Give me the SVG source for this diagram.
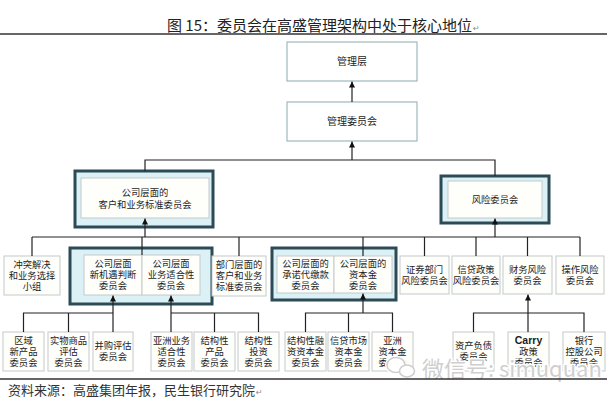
<svg xmlns="http://www.w3.org/2000/svg" width="607" height="402" viewBox="0 0 607 402">
<defs>
<style>
.bg{fill:#ffffff}
.box{fill:#fefefb;stroke:#c3cacb;stroke-width:1}
.top{fill:#ffffff;stroke:#9fb8b8;stroke-width:1.2}
.grp{fill:#dbf1f5;stroke:#2d4b56;stroke-width:3}
.t{font-family:"Noto Sans CJK SC","Noto Sans",sans-serif;font-size:9.3px;fill:#1c1c1c;text-anchor:middle}
.tl{font-size:10px}
.en{font-family:"Liberation Sans",Arial,sans-serif;font-weight:bold;font-size:10.5px}
.title{font-family:"Noto Sans CJK SC","Noto Sans",sans-serif;font-size:15px;fill:#222}
.foot{font-family:"Noto Sans CJK SC","Noto Sans",sans-serif;font-size:13px;fill:#333}
.ret{font-family:"DejaVu Sans",sans-serif;font-size:8px;fill:#888}
.rule{stroke:#333;stroke-width:1.3}
.c{stroke:#222;stroke-width:1.2;fill:none}
.wm{font-family:"Noto Sans CJK SC","Noto Sans",sans-serif;font-size:22px;fill:#cfcfcf;stroke:#ffffff;stroke-width:3;paint-order:stroke;stroke-linejoin:round}
</style>
<marker id="ar" markerWidth="6" markerHeight="6" refX="6" refY="3" orient="auto" markerUnits="userSpaceOnUse">
<path d="M0,0 L6,3 L0,6 z" fill="#111"/>
</marker>
</defs>
<rect class="bg" x="0" y="0" width="607" height="402"/>

<g id="title">
<text class="title" x="167" y="30.5">图 15：委员会在高盛管理架构中处于核心地位<tspan class="ret" dx="1">↵</tspan></text>
<line class="rule" x1="0" y1="34" x2="607" y2="34"/>
</g>

<g id="n-guanliceng"><rect class="top" x="287" y="42" width="130" height="39"/><text class="t tl" x="352" y="65">管理层</text></g>
<g id="n-guanliweiyuanhui"><rect class="top" x="287" y="102" width="130" height="39"/><text class="t tl" x="352" y="125">管理委员会</text></g>

<g id="n-kehu"><rect class="grp" x="75" y="171" width="138" height="56"/><rect class="box" x="81" y="178" width="128" height="40"/>
<text class="t" x="145"><tspan x="145" y="196">公司层面的</tspan><tspan x="145" y="207.5">客户和业务标准委员会</tspan></text></g>

<g id="n-fengxian"><rect class="grp" x="441" y="176" width="108" height="47"/><rect class="box" x="448" y="181" width="94" height="37"/>
<text class="t" x="495" y="203">风险委员会</text></g>

<g id="n-chongtu"><rect class="box" x="4" y="256" width="56" height="39"/>
<text class="t"><tspan x="32" y="268">冲突解决</tspan><tspan x="32" y="279">和业务选择</tspan><tspan x="32" y="290">小组</tspan></text></g>

<g id="g-xinjiyu"><rect class="grp" x="70" y="248" width="142" height="56"/>
<g id="n-xinjiyu"><rect class="box" x="84" y="255" width="58" height="40"/>
<text class="t"><tspan x="113" y="267.3">公司层面</tspan><tspan x="113" y="278.3">新机遇判断</tspan><tspan x="113" y="289.3">委员会</tspan></text></g>
<g id="n-shihexing"><rect class="box" x="142" y="255" width="58" height="40"/>
<text class="t"><tspan x="171" y="267.3">公司层面</tspan><tspan x="171" y="278.3">业务适合性</tspan><tspan x="171" y="289.3">委员会</tspan></text></g>
</g>

<g id="n-bumen"><rect class="box" x="212" y="256" width="54" height="40"/>
<text class="t"><tspan x="239" y="268.3">部门层面的</tspan><tspan x="239" y="279.3">客户和业务</tspan><tspan x="239" y="290.3">标准委员会</tspan></text></g>

<g id="g-chengnuo"><rect class="grp" x="272" y="248" width="124" height="52"/>
<g id="n-chengnuo"><rect class="box" x="277" y="256" width="57" height="37"/>
<text class="t"><tspan x="305.5" y="266.8">公司层面的</tspan><tspan x="305.5" y="277.8">承诺代缴款</tspan><tspan x="305.5" y="288.8">委员会</tspan></text></g>
<g id="n-zibenjin"><rect class="box" x="334" y="256" width="58" height="37"/>
<text class="t"><tspan x="363" y="266.8">公司层面的</tspan><tspan x="363" y="277.8">资本金</tspan><tspan x="363" y="288.8">委员会</tspan></text></g>
</g>

<g id="n-zhengquan"><rect class="box" x="400" y="256" width="49" height="38"/>
<text class="t"><tspan x="424.5" y="272.8">证券部门</tspan><tspan x="424.5" y="283.8">风险委员会</tspan></text></g>
<g id="n-xindai"><rect class="box" x="452" y="256" width="48" height="38"/>
<text class="t"><tspan x="476" y="272.8">信贷政策</tspan><tspan x="476" y="283.8">风险委员会</tspan></text></g>
<g id="n-caiwu"><rect class="box" x="503" y="256" width="49" height="38"/>
<text class="t"><tspan x="527.5" y="272.8">财务风险</tspan><tspan x="527.5" y="283.8">委员会</tspan></text></g>
<g id="n-caozuo"><rect class="box" x="556" y="256" width="48" height="38"/>
<text class="t"><tspan x="580" y="272.8">操作风险</tspan><tspan x="580" y="283.8">委员会</tspan></text></g>

<g id="n-quyu"><rect class="box" x="3" y="332" width="41" height="39"/>
<text class="t"><tspan x="23.5" y="343.8">区域</tspan><tspan x="23.5" y="354.8">新产品</tspan><tspan x="23.5" y="365.8">委员会</tspan></text></g>
<g id="n-shiwu"><rect class="box" x="48" y="332" width="41" height="39"/>
<text class="t"><tspan x="68.5" y="343.8">实物商品</tspan><tspan x="68.5" y="354.8">评估</tspan><tspan x="68.5" y="365.8">委员会</tspan></text></g>
<g id="n-binggou"><rect class="box" x="93" y="332" width="40" height="39"/>
<text class="t"><tspan x="113" y="349.3">并购评估</tspan><tspan x="113" y="360.3">委员会</tspan></text></g>

<g id="n-yazhouyewu"><rect class="box" x="151" y="332" width="41" height="39"/>
<text class="t"><tspan x="171.5" y="343.8">亚洲业务</tspan><tspan x="171.5" y="354.8">适合性</tspan><tspan x="171.5" y="365.8">委员会</tspan></text></g>
<g id="n-jiegouchanpin"><rect class="box" x="194" y="332" width="41" height="39"/>
<text class="t"><tspan x="214.5" y="343.8">结构性</tspan><tspan x="214.5" y="354.8">产品</tspan><tspan x="214.5" y="365.8">委员会</tspan></text></g>
<g id="n-jiegoutouzi"><rect class="box" x="238" y="332" width="41" height="39"/>
<text class="t"><tspan x="258.5" y="343.8">结构性</tspan><tspan x="258.5" y="354.8">投资</tspan><tspan x="258.5" y="365.8">委员会</tspan></text></g>

<g id="n-jiegourongzi"><rect class="box" x="285" y="332" width="41" height="39"/>
<text class="t"><tspan x="305.5" y="343.8">结构性融</tspan><tspan x="305.5" y="354.8">资资本金</tspan><tspan x="305.5" y="365.8">委员会</tspan></text></g>
<g id="n-xindaishichang"><rect class="box" x="328" y="332" width="41" height="39"/>
<text class="t"><tspan x="348.5" y="343.8">信贷市场</tspan><tspan x="348.5" y="354.8">资本金</tspan><tspan x="348.5" y="365.8">委员会</tspan></text></g>
<g id="n-yazhouziben"><rect class="box" x="372" y="332" width="41" height="39"/>
<text class="t"><tspan x="392.5" y="343.8">亚洲</tspan><tspan x="392.5" y="354.8">资本金</tspan><tspan x="392.5" y="365.8">委员会</tspan></text></g>

<g id="n-zichanfuzhai"><rect class="box" x="453" y="332" width="41" height="39"/>
<text class="t"><tspan x="473.5" y="349.3">资产负债</tspan><tspan x="473.5" y="360.3">委员会</tspan></text></g>
<g id="n-carry"><rect class="box" x="508" y="332" width="41" height="39"/>
<text class="t"><tspan class="en" x="528.5" y="344">Carry</tspan><tspan x="528.5" y="354.8">政策</tspan><tspan x="528.5" y="365.8">委员会</tspan></text></g>
<g id="n-yinhang"><rect class="box" x="563" y="332" width="42" height="39"/>
<text class="t"><tspan x="584" y="343.8">银行</tspan><tspan x="584" y="354.8">控股公司</tspan><tspan x="584" y="365.8">委员会</tspan></text></g>

<g id="connectors">
<line class="c" x1="352" y1="102" x2="352" y2="81.5" marker-end="url(#ar)"/>
<line class="c" x1="352" y1="160" x2="352" y2="141.5" marker-end="url(#ar)"/>
<polyline class="c" points="145,171 145,160 495,160 495,176"/>
<line class="c" x1="32" y1="237" x2="580" y2="237"/>
<line class="c" x1="145" y1="237" x2="145" y2="218.5" marker-end="url(#ar)"/>
<line class="c" x1="495" y1="237" x2="495" y2="218.5" marker-end="url(#ar)"/>
<line class="c" x1="32" y1="237" x2="32" y2="256"/>
<line class="c" x1="142" y1="237" x2="142" y2="255"/>
<line class="c" x1="239" y1="237" x2="239" y2="256"/>
<line class="c" x1="363" y1="237" x2="363" y2="256"/>
<line class="c" x1="424.5" y1="237" x2="424.5" y2="256"/>
<line class="c" x1="476" y1="237" x2="476" y2="256"/>
<line class="c" x1="527.5" y1="237" x2="527.5" y2="256"/>
<line class="c" x1="580" y1="237" x2="580" y2="256"/>

<polyline class="c" points="23.5,332 23.5,313 113,313"/>
<line class="c" x1="68.5" y1="313" x2="68.5" y2="332"/>
<line class="c" x1="113" y1="332" x2="113" y2="295.5" marker-end="url(#ar)"/>

<polyline class="c" points="171,313 258.5,313 258.5,332"/>
<line class="c" x1="214.5" y1="313" x2="214.5" y2="332"/>
<line class="c" x1="171" y1="332" x2="171" y2="295.5" marker-end="url(#ar)"/>

<polyline class="c" points="305.5,332 305.5,313 392.5,313 392.5,332"/>
<line class="c" x1="348.5" y1="313" x2="348.5" y2="332"/>
<line class="c" x1="363" y1="313" x2="363" y2="293.5" marker-end="url(#ar)"/>

<polyline class="c" points="473.5,332 473.5,313 584,313 584,332"/>
<line class="c" x1="528" y1="332" x2="528" y2="294.5" marker-end="url(#ar)"/>
</g>

<g id="watermark">
<g fill="none" stroke="#cfcfcf" stroke-width="1.6">
<ellipse cx="396" cy="365" rx="9" ry="7.5" fill="#fff" stroke="#fff" stroke-width="4"/>
<ellipse cx="396" cy="365" rx="9" ry="7.5"/>
<ellipse cx="407" cy="371" rx="7.5" ry="6" fill="#fff"/>
</g>
<text class="wm" x="422" y="377">微信号: simuquan</text>
</g>

<g id="footer">
<line class="rule" x1="0" y1="379" x2="607" y2="379"/>
<text class="foot" x="8" y="395">资料来源：高盛集团年报，民生银行研究院<tspan class="ret" dx="1">↵</tspan></text>
</g>
</svg>
